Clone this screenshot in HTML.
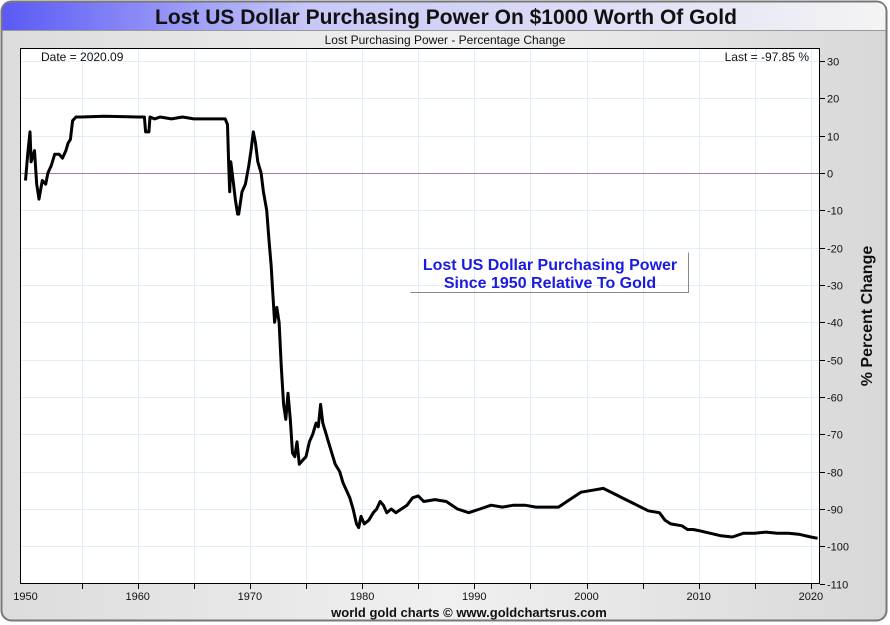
<!DOCTYPE html>
<html><head><meta charset="utf-8"><style>
body{margin:0;width:890px;height:625px;overflow:hidden;background:#fff;font-family:"Liberation Sans",sans-serif}
</style></head><body>
<svg width="890" height="625" style="position:absolute;left:0;top:0">
<defs>
<linearGradient id="tb" x1="0" x2="1"><stop offset="0" stop-color="#5a5af5"/><stop offset="0.35" stop-color="#c8c8f8"/><stop offset="1" stop-color="#f4f4f4"/></linearGradient>
<linearGradient id="bg" x1="0" x2="1"><stop offset="0" stop-color="#dcdcdc"/><stop offset="0.5" stop-color="#f0f0f0"/><stop offset="1" stop-color="#d8d8d8"/></linearGradient>
</defs>
<rect x="1.5" y="1.5" width="885" height="619" rx="10" fill="url(#bg)" stroke="#777" stroke-width="2"/>
<path d="M2.5 30 L2.5 12 Q2.5 2.5 12 2.5 L876 2.5 Q885.5 2.5 885.5 12 L885.5 30 Z" fill="url(#tb)"/>
<line x1="2" y1="30.5" x2="886" y2="30.5" stroke="#999"/>
<text x="446" y="24" text-anchor="middle" font-size="21" font-weight="bold" fill="#111">Lost US Dollar Purchasing Power On $1000 Worth Of Gold</text>
<text x="445" y="44" text-anchor="middle" font-size="12" fill="#111">Lost Purchasing Power - Percentage Change</text>
<rect x="20.5" y="48.5" width="799" height="535" fill="#fff" stroke="#000"/>
<g id="grid"></g>
<g id="axes"></g>
<path id="line" fill="none" stroke="#000" stroke-width="3" stroke-linejoin="round"/>
<text x="41" y="61" font-size="12" fill="#111">Date = 2020.09</text>
<text x="809" y="61" text-anchor="end" font-size="12" fill="#111">Last = -97.85 %</text>
<g>
<path d="M410.5 292.5 L688.5 292.5 L688.5 252.5" fill="none" stroke="#888"/>
<text x="550" y="270" text-anchor="middle" font-size="16" font-weight="bold" fill="#1a1ae0">Lost US Dollar Purchasing Power</text>
<text x="550" y="288" text-anchor="middle" font-size="16" font-weight="bold" fill="#1a1ae0">Since 1950 Relative To Gold</text>
</g>
<text transform="translate(872,316) rotate(-90)" text-anchor="middle" font-size="16" font-weight="bold" fill="#111">% Percent Change</text>
<text x="469" y="617" text-anchor="middle" font-size="13" font-weight="bold" fill="#111">world gold charts © www.goldchartsrus.com</text>
</svg>
<script>
const years=[1950.0,1950.2,1950.4,1950.5,1950.8,1951.0,1951.2,1951.5,1951.8,1952.0,1952.3,1952.6,1953.0,1953.3,1953.6,1953.8,1954.0,1954.2,1954.5,1955,1957,1960,1960.6,1960.7,1961.0,1961.1,1961.5,1962,1963,1964,1965,1966,1967,1967.8,1968.0,1968.1,1968.2,1968.3,1968.5,1968.7,1968.9,1969.0,1969.3,1969.6,1969.9,1970.1,1970.3,1970.5,1970.7,1971.0,1971.2,1971.5,1971.7,1971.9,1972.0,1972.2,1972.4,1972.6,1972.8,1973.0,1973.2,1973.4,1973.6,1973.8,1974.0,1974.2,1974.4,1974.7,1975.0,1975.3,1975.6,1975.9,1976.1,1976.3,1976.5,1976.8,1977.0,1977.3,1977.6,1978.0,1978.3,1978.6,1978.9,1979.2,1979.5,1979.7,1979.9,1980.2,1980.6,1981.0,1981.3,1981.6,1981.9,1982.2,1982.6,1983.0,1983.5,1984.0,1984.5,1985.0,1985.5,1986.5,1987.5,1988.5,1989.5,1990.5,1991.5,1992.5,1993.5,1994.5,1995.5,1996.5,1997.5,1998.5,1999.5,2000.5,2001.5,2002.5,2003.5,2004.5,2005.5,2006.5,2007.0,2007.5,2008.5,2009.0,2009.5,2010,2011,2012,2013,2014,2015,2016,2017,2018,2019,2020,2020.6];
const values=[-2,5,11,3,6,-3,-7,-2,-3,0,2,5,5,4,6,8,9,14,15,15,15.2,15,15,11,11,15,14.5,15,14.5,15,14.5,14.5,14.5,14.5,13,3,-5,3,-2,-7,-11,-11,-5,-3,2,6,11,8,3,0,-5,-10,-18,-25,-30,-40,-36,-40,-52,-62,-66,-59,-66,-75,-76,-72,-78,-77,-76,-72,-70,-67,-68,-62,-67,-70,-72,-75,-78,-80,-83,-85,-87,-90,-94,-95,-92,-94,-93,-91,-90,-88,-89,-91,-90,-91,-90,-89,-87,-86.5,-88,-87.5,-88,-90,-91,-90,-89,-89.5,-89,-89,-89.5,-89.5,-89.5,-87.5,-85.5,-85,-84.5,-86,-87.5,-89,-90.5,-91,-93,-94,-94.5,-95.5,-95.5,-95.8,-96.5,-97.2,-97.5,-96.5,-96.5,-96.2,-96.5,-96.5,-96.8,-97.5,-97.85];
const yTicks=[30,20,10,0,-10,-20,-30,-40,-50,-60,-70,-80,-90,-100,-110];
const xTicks=[1950,1960,1970,1980,1990,2000,2010,2020];
const X=y=>25.5+(y-1950)*11.22;
const Y=v=>173-v*3.733;
const NS='http://www.w3.org/2000/svg';
const grid=document.getElementById('grid'),axes=document.getElementById('axes');
function mk(p,tag,at,txt){const e=document.createElementNS(NS,tag);for(const k in at)e.setAttribute(k,at[k]);if(txt!==undefined)e.textContent=txt;p.appendChild(e);return e;}
for(let yr=1955;yr<=2020;yr+=5){const x=Math.round(X(yr))+0.5;
 const g=mk(grid,'line',{x1:x,x2:x,y1:49,y2:583,stroke:'#e2eef8'});
 
 
 const t=mk(axes,'line',{x1:x,x2:x,y1:583,y2:589,stroke:'#000'});
 
 }
yTicks.forEach(v=>{const y=Math.round(Y(v))+0.5;
 if(v!==0&&v>-110){const g=mk(grid,'line',{x1:21,x2:819,y1:y,y2:y,stroke:'#e2eef8'});
 
 }
 const t=mk(axes,'line',{x1:820,x2:825,y1:y,y2:y,stroke:'#000'});
 
 
 const l=mk(axes,'text',{x:827,y:y+4,'font-size':11,fill:'#111'},String(v));
 
 });
const z=mk(grid,'line',{x1:21,x2:819,y1:Math.round(Y(0))+0.5,y2:Math.round(Y(0))+0.5,stroke:'#a080a0'});


xTicks.forEach(yr=>{const l=mk(axes,'text',{x:X(yr),y:600,'text-anchor':'middle','font-size':11,fill:'#111'},String(yr));
 
 });
document.getElementById('line').setAttribute('d',years.map((yr,i)=>(i?'L':'M')+X(yr).toFixed(1)+' '+Y(values[i]).toFixed(1)).join(' '));
</script>
</body></html>
